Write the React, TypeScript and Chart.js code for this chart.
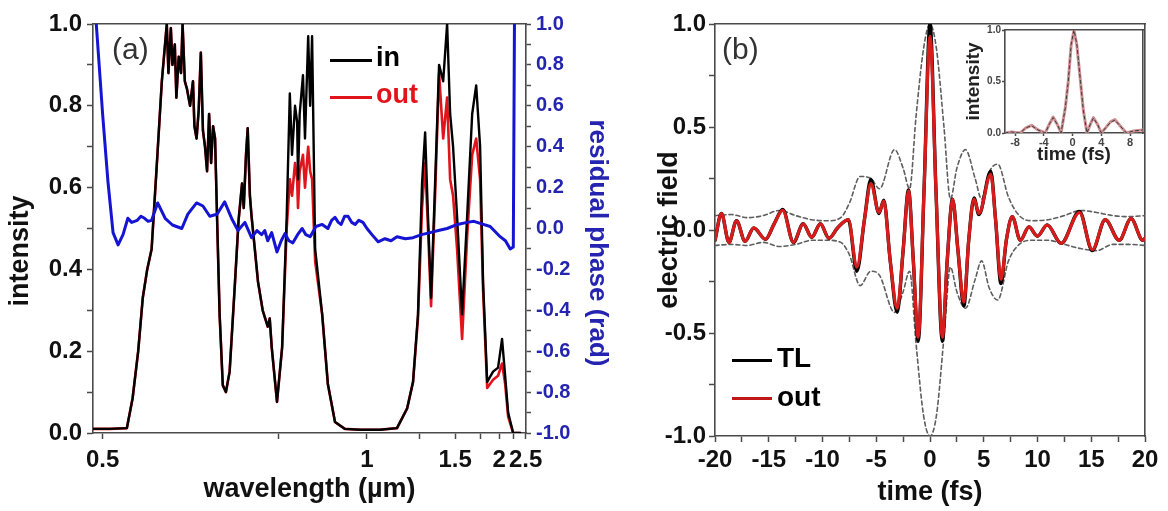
import React, { useEffect, useRef } from "react";
import { Chart, registerables } from "chart.js";

Chart.register(...registerables);

const FONT = "'Liberation Sans', Arial, Helvetica, sans-serif";
const AXIS = "#4a4a4a";
const BLUE_LINE = "#1414d2";
const BLUE_TEXT = "#2424b0";
const RED = "#e0141a";

// ---------------- Panel (a): spectrum (wavelength in µm) ----------------
const specWavelength = [
  0.491, 0.507, 0.524, 0.530, 0.536, 0.541, 0.546, 0.551, 0.557, 0.563,
  0.569, 0.571, 0.574, 0.576, 0.579, 0.581, 0.584, 0.587, 0.589, 0.592,
  0.595, 0.599, 0.603, 0.605, 0.608, 0.611, 0.614, 0.617, 0.620, 0.623,
  0.626, 0.629, 0.632, 0.635, 0.638, 0.642, 0.647, 0.652, 0.658, 0.667,
  0.673, 0.679, 0.682, 0.686, 0.689, 0.693, 0.696, 0.702, 0.708, 0.717,
  0.727, 0.731, 0.735, 0.746, 0.757, 0.767, 0.774, 0.779, 0.786, 0.791,
  0.793, 0.797, 0.805, 0.810, 0.818, 0.823, 0.828, 0.836, 0.855, 0.871,
  0.892, 0.923, 0.974, 1.052, 1.128, 1.179, 1.211, 1.239, 1.263, 1.282,
  1.300, 1.320, 1.347, 1.375, 1.405, 1.435, 1.459, 1.483, 1.517, 1.562,
  1.610, 1.661, 1.704, 1.748, 1.783, 1.834, 1.912, 1.984, 2.045, 2.095,
  2.146, 2.237, 2.380,
];
const specIn = [
  0.01, 0.01, 0.012, 0.085, 0.20, 0.33, 0.40, 0.45, 0.655, 0.86,
  1.0, 0.88, 0.99, 0.90, 0.95, 0.82, 0.92, 0.88, 1.0, 0.86,
  0.84, 0.80, 0.86, 0.75, 0.72, 0.79, 0.93, 0.74, 0.70, 0.64,
  0.78, 0.66, 0.75, 0.72, 0.53, 0.29, 0.117, 0.10, 0.15, 0.37,
  0.52, 0.61, 0.55, 0.68, 0.745, 0.58, 0.53, 0.45, 0.37, 0.30,
  0.26, 0.28, 0.21, 0.076, 0.21, 0.53, 0.83, 0.68, 0.80, 0.76,
  0.62, 0.78, 0.875, 0.72, 0.97, 0.80, 0.97, 0.45, 0.29, 0.12,
  0.027, 0.01, 0.008, 0.008, 0.012, 0.06, 0.125, 0.29, 0.61, 0.735,
  0.53, 0.33, 0.61, 0.90, 0.86, 1.0, 0.78, 0.70, 0.53, 0.29,
  0.53, 0.78, 0.85, 0.70, 0.37, 0.125, 0.15, 0.16, 0.23, 0.14,
  0.05, 0.0, 0.0,
];
const specOut = [
  0.01, 0.01, 0.012, 0.085, 0.20, 0.33, 0.40, 0.45, 0.655, 0.86,
  1.0, 0.88, 0.99, 0.90, 0.95, 0.82, 0.92, 0.88, 1.0, 0.86,
  0.84, 0.80, 0.86, 0.75, 0.72, 0.79, 0.93, 0.74, 0.70, 0.64,
  0.78, 0.66, 0.75, 0.72, 0.53, 0.29, 0.117, 0.10, 0.15, 0.37,
  0.52, 0.61, 0.55, 0.68, 0.745, 0.58, 0.53, 0.45, 0.37, 0.30,
  0.26, 0.28, 0.21, 0.076, 0.21, 0.50, 0.62, 0.58, 0.66, 0.62,
  0.55, 0.64, 0.68, 0.60, 0.70, 0.64, 0.62, 0.42, 0.29, 0.12,
  0.027, 0.01, 0.008, 0.008, 0.012, 0.06, 0.125, 0.28, 0.55, 0.66,
  0.50, 0.31, 0.58, 0.88, 0.72, 0.82, 0.62, 0.58, 0.45, 0.23,
  0.48, 0.68, 0.72, 0.62, 0.35, 0.11, 0.13, 0.14, 0.17, 0.12,
  0.04, 0.0, 0.0,
];
const phaseWavelength = [
  0.494, 0.500, 0.505, 0.510, 0.515, 0.520, 0.525, 0.529, 0.535, 0.539,
  0.543, 0.547, 0.551, 0.558, 0.567, 0.576, 0.588, 0.596, 0.608, 0.617,
  0.627, 0.638, 0.650, 0.662, 0.672, 0.684, 0.696, 0.706, 0.715, 0.721,
  0.727, 0.735, 0.746, 0.755, 0.763, 0.772, 0.781, 0.792, 0.803, 0.812,
  0.823, 0.838, 0.855, 0.871, 0.882, 0.892, 0.902, 0.911, 0.922, 0.933,
  0.945, 0.957, 0.970, 0.985, 1.000, 1.019, 1.044, 1.073, 1.100, 1.128,
  1.170, 1.211, 1.260, 1.314, 1.370, 1.435, 1.520, 1.610, 1.680, 1.748,
  1.873, 2.015, 2.100, 2.183, 2.240, 2.262,
];
const phaseResidual = [
  1.0, 0.555, 0.23, -0.02, -0.08, -0.03, 0.05, 0.03, 0.04, 0.06,
  0.05, 0.035, 0.04, 0.125, 0.05, 0.017, 0.0, 0.07, 0.125, 0.11,
  0.06, 0.07, 0.13, 0.045, -0.01, 0.03, -0.045, -0.01, -0.03, -0.01,
  -0.06, -0.02, -0.115, -0.06, -0.025, -0.06, -0.07, -0.03, 0.0, -0.03,
  -0.04, 0.01, 0.02, 0.0, 0.04, 0.055, 0.03, 0.02, 0.06, 0.06,
  0.03, 0.02, 0.04, 0.03, 0.0, -0.03, -0.065, -0.05, -0.06, -0.04,
  -0.05, -0.045, -0.03, -0.02, -0.01, 0.0, 0.02, 0.03, 0.035, 0.025,
  0.01, -0.04, -0.06, -0.1, -0.09, 1.0,
];
const wlTicks = [0.5, 0.75, 1, 1.25, 1.5, 1.75, 2, 2.25, 2.5];
const wlTickLabels = ["0.5", "", "1", "", "1.5", "", "2", "", "2.5"];
const wlMin = 0.491;
const wlMax = 2.51;

// ---------------- Panel (b): electric field vs time (fs) ----------------
const fieldTime = [
  -20, -19.4, -18.7, -18.0, -17.2, -16.4, -15.3, -14.5, -13.7, -12.7,
  -11.8, -11.0, -10.2, -9.4, -8.6, -7.6, -6.8, -6.1, -5.5, -4.75,
  -4.3, -3.7, -3.05, -2.5, -2.0, -1.55, -1.1, -0.55, 0, 0.55,
  1.15, 1.6, 2.1, 2.6, 3.15, 3.6, 4.1, 4.55, 5.65, 6.1,
  6.6, 7.1, 7.65, 8.4, 9.2, 10.0, 10.9, 12.2, 13.9, 15.1,
  16.3, 17.6, 18.7, 19.8, 20,
];
const fieldTL = [
  -0.05, 0.08, -0.06, 0.045, -0.055, 0.01, -0.045, 0.03, 0.10, -0.06,
  0.03, -0.035, 0.03, -0.04, 0.01, 0.05, -0.20, 0.05, 0.245, 0.08,
  0.145, -0.15, -0.40, -0.10, 0.195, -0.15, -0.54, 0.20, 1.0, 0.20,
  -0.54, -0.15, 0.15, -0.10, -0.37, -0.05, 0.155, 0.075, 0.285, 0.05,
  -0.26, -0.05, 0.065, -0.05, 0.015, -0.03, 0.025, -0.065, 0.09, -0.10,
  0.05, -0.05, 0.055, -0.05, -0.04,
];
const fieldOut = [
  -0.05, 0.08, -0.06, 0.045, -0.055, 0.01, -0.045, 0.03, 0.095, -0.06,
  0.03, -0.035, 0.03, -0.04, 0.01, 0.05, -0.18, 0.05, 0.225, 0.085,
  0.14, -0.15, -0.38, -0.10, 0.19, -0.15, -0.52, 0.20, 0.94, 0.20,
  -0.52, -0.15, 0.15, -0.10, -0.35, -0.05, 0.15, 0.08, 0.27, 0.05,
  -0.24, -0.05, 0.065, -0.05, 0.015, -0.03, 0.025, -0.065, 0.085, -0.095,
  0.05, -0.05, 0.055, -0.05, -0.04,
];
const envTime = [
  -20, -18.5, -17, -15.5, -14, -12.5, -11, -9.5, -8.3, -7.5,
  -6.5, -5.5, -4.7, -3.3, -2.5, -1.9, -1.3, -0.6, 0, 0.6,
  1.3, 1.9, 2.5, 3.3, 4.2, 4.8, 5.5, 6.3, 7.3, 8.3,
  9.5, 11, 12.5, 14, 15.5, 17, 18.5, 20,
];
const envUpper = [
  0.07, 0.075, 0.06, 0.07, 0.095, 0.07, 0.05, 0.045, 0.06, 0.13,
  0.26, 0.25, 0.2, 0.39, 0.3, 0.2, 0.55, 0.88, 1.0, 0.88,
  0.5, 0.15, 0.3, 0.39, 0.25, 0.15, 0.28, 0.32, 0.16, 0.07,
  0.045, 0.05, 0.07, 0.095, 0.085, 0.07, 0.065, 0.07,
];
const envLower = [
  -0.075, -0.07, -0.075, -0.06, -0.08, -0.07, -0.05, -0.05, -0.06, -0.12,
  -0.27, -0.2, -0.22, -0.4, -0.3, -0.2, -0.55, -0.9, -1.0, -0.9,
  -0.52, -0.18, -0.3, -0.38, -0.24, -0.15, -0.28, -0.34, -0.15, -0.07,
  -0.05, -0.05, -0.07, -0.09, -0.1, -0.07, -0.07, -0.075,
];

// ---------------- Inset: intensity vs time (fs) ----------------
const insetTime = [
  -9.4, -8.5, -7.3, -6.5, -5.7, -4.8, -3.8, -3.2, -2.7, -2.1,
  -1.6, -1.0, -0.6, -0.2, 0.2, 0.6, 1.1, 1.5, 2.0, 2.5,
  2.9, 3.5, 4.0, 4.6, 5.3, 5.9, 6.6, 7.5, 8.5, 9.8,
];
const insetOut = [
  0.0, 0.01, 0.0, 0.05, 0.075, 0.03, 0.0, 0.09, 0.155, 0.08,
  0.0, 0.25, 0.5, 0.85, 1.0, 0.85, 0.5, 0.22, 0.0, 0.09,
  0.15, 0.08, 0.0, 0.05, 0.11, 0.13, 0.07, 0.0, 0.02, 0.03,
];
const insetTL = [
  0.0, 0.01, 0.0, 0.05, 0.07, 0.03, 0.0, 0.09, 0.15, 0.08,
  0.0, 0.25, 0.5, 0.86, 1.0, 0.86, 0.5, 0.22, 0.0, 0.09,
  0.145, 0.08, 0.0, 0.05, 0.105, 0.125, 0.07, 0.0, 0.02, 0.03,
];
const insetTicks = [-8, -4, 0, 4, 8];

// ---------------- helpers ----------------
const bold = (size: number) => ({ family: FONT, size, weight: "bold" as const });
const setW = (w: number) => (s: any) => { s.width = w; };
const setH = (h: number) => (s: any) => { s.height = h; };
const tickGrid = (len: number) => ({
  display: true, drawOnChartArea: false, drawTicks: true, tickLength: len, tickWidth: 1.5, tickColor: AXIS,
});
const noGrid = { display: false, drawOnChartArea: false, drawTicks: false };
const frame = { display: true, color: AXIS, width: 1.6 };
const pts = (xs: number[], ys: number[], f = (v: number) => v) => xs.map((x, i) => ({ x: f(x), y: ys[i] }));
const inv = (w: number) => 1 / w;
const tenthsLabel = (v: number) => {
  const r = Math.round(v * 10);
  return r % 2 === 0 ? (r / 10).toFixed(1) : "";
};
const baseOpts = {
  animation: false,
  responsive: false,
  maintainAspectRatio: false,
  events: [],
  layout: { padding: 0 },
  plugins: { legend: { display: false }, tooltip: { enabled: false } },
  elements: { point: { radius: 0 }, line: { borderJoinStyle: "round", borderCapStyle: "round" } },
};

function configA(): any {
  return {
    type: "line",
    data: {
      datasets: [
        { label: "in", data: pts(specWavelength, specIn, inv), borderColor: "#000", borderWidth: 2.4, order: 1, yAxisID: "y", xAxisID: "x" },
        { label: "out", data: pts(specWavelength, specOut, inv), borderColor: RED, borderWidth: 2.6, order: 2, yAxisID: "y", xAxisID: "x" },
        { label: "residual phase", data: pts(phaseWavelength, phaseResidual, inv), borderColor: BLUE_LINE, borderWidth: 3, order: 0, yAxisID: "y1", xAxisID: "x" },
      ],
    },
    options: {
      ...baseOpts,
      scales: {
        x: {
          type: "linear", position: "bottom", reverse: true, min: 1 / wlMax, max: 1 / wlMin,
          afterBuildTicks: (s: any) => { s.ticks = wlTicks.map((w) => ({ value: 1 / w })); },
          ticks: { autoSkip: false, maxRotation: 0, padding: 7, color: "#111", font: bold(24), callback: (_v: any, i: number) => wlTickLabels[i] },
          grid: tickGrid(6), border: frame,
          title: { display: true, text: "wavelength (µm)", color: "#111", font: bold(27), padding: { top: 0, bottom: 5 } },
          afterFit: setH(78),
        },
        xTop: {
          type: "linear", position: "top", reverse: true, min: 1 / wlMax, max: 1 / wlMin,
          ticks: { display: false }, grid: noGrid, border: frame, afterFit: setH(24),
        },
        y: {
          type: "linear", position: "left", min: 0, max: 1,
          ticks: { stepSize: 0.1, autoSkip: false, padding: 5, color: "#111", font: bold(24), callback: tenthsLabel },
          grid: tickGrid(6), border: frame,
          title: { display: true, text: "intensity      ", color: "#111", font: bold(27), padding: { top: 4, bottom: 0 } },
          afterFit: setW(93),
        },
        y1: {
          type: "linear", position: "right", min: -1, max: 1,
          ticks: { stepSize: 0.1, autoSkip: false, padding: 5, color: BLUE_TEXT, font: bold(20), callback: tenthsLabel },
          grid: tickGrid(5), border: frame,
          title: { display: true, text: "    residual phase (rad)", color: BLUE_TEXT, font: bold(26), padding: { top: 27, bottom: 0 } },
          afterFit: setW(114),
        },
      },
    },
  };
}

function configB(): any {
  return {
    type: "line",
    data: {
      datasets: [
        { label: "TL", data: pts(fieldTime, fieldTL), borderColor: "#000", borderWidth: 3.4, order: 2, cubicInterpolationMode: "monotone" },
        { label: "out", data: pts(fieldTime, fieldOut), borderColor: "#d81c1c", borderWidth: 3.2, order: 1, cubicInterpolationMode: "monotone" },
        { label: "envelope +", data: pts(envTime, envUpper), borderColor: "#5e5e5e", borderWidth: 1.6, borderDash: [4, 3], order: 3, cubicInterpolationMode: "monotone" },
        { label: "envelope -", data: pts(envTime, envLower), borderColor: "#5e5e5e", borderWidth: 1.6, borderDash: [4, 3], order: 3, cubicInterpolationMode: "monotone" },
      ],
    },
    options: {
      ...baseOpts,
      scales: {
        x: {
          type: "linear", position: "bottom", min: -20, max: 20,
          ticks: {
            stepSize: 2.5, autoSkip: false, maxRotation: 0, padding: 4, color: "#111", font: bold(24),
            callback: (v: number) => (Math.round(v / 2.5) % 2 === 0 ? String(Math.round(v)) : ""),
          },
          grid: tickGrid(6), border: frame,
          title: { display: true, text: "time (fs)", color: "#111", font: bold(27), padding: { top: 0, bottom: 2 } },
          afterFit: setH(75),
        },
        xTop: { type: "linear", position: "top", min: -20, max: 20, ticks: { display: false }, grid: noGrid, border: frame, afterFit: setH(24) },
        y: {
          type: "linear", position: "left", min: -1, max: 1,
          ticks: {
            stepSize: 0.25, autoSkip: false, padding: 3, color: "#111", font: bold(24),
            callback: (v: number) => (Math.round(v * 4) % 2 === 0 ? (Math.round(v * 2) / 2).toFixed(1) : ""),
          },
          grid: tickGrid(6), border: frame,
          title: { display: true, text: "electric field", color: "#111", font: bold(27), padding: { top: 33, bottom: 0 } },
          afterFit: setW(95),
        },
        yRight: { type: "linear", position: "right", min: -1, max: 1, ticks: { display: false }, grid: noGrid, border: frame, afterFit: setW(23) },
      },
    },
  };
}

function configInset(): any {
  return {
    type: "line",
    data: {
      datasets: [
        { label: "out", data: pts(insetTime, insetOut), borderColor: "#cf8f92", borderWidth: 3, order: 2 },
        { label: "TL", data: pts(insetTime, insetTL), borderColor: "#3a3a3a", borderWidth: 1, borderDash: [3, 3], order: 1 },
      ],
    },
    options: {
      ...baseOpts,
      scales: {
        x: {
          type: "linear", position: "bottom", min: -9.4, max: 9.8,
          afterBuildTicks: (s: any) => { s.ticks = insetTicks.map((v) => ({ value: v })); },
          ticks: { autoSkip: false, maxRotation: 0, padding: 0, color: "#444", font: bold(11), callback: (v: number) => String(v) },
          grid: tickGrid(3), border: frame,
          title: { display: true, text: "time (fs)", color: "#222", font: bold(19), padding: { top: 0, bottom: 9 } },
          afterFit: setH(42),
        },
        xTop: { type: "linear", position: "top", min: -9.4, max: 9.8, ticks: { display: false }, grid: noGrid, border: frame, afterFit: setH(30) },
        y: {
          type: "linear", position: "left", min: 0, max: 1,
          ticks: { stepSize: 0.5, autoSkip: false, padding: 1, color: "#444", font: bold(10), callback: (v: number) => v.toFixed(1) },
          grid: tickGrid(3), border: frame,
          title: { display: true, text: "intensity", color: "#222", font: bold(19), padding: { top: 22, bottom: 0 } },
          afterFit: setW(65),
        },
        yRight: { type: "linear", position: "right", min: 0, max: 1, ticks: { display: false }, grid: noGrid, border: frame, afterFit: setW(25) },
      },
    },
  };
}

const abs = (o: any): React.CSSProperties => ({ position: "absolute", fontFamily: FONT, whiteSpace: "nowrap", lineHeight: 1, ...o });

export default function App() {
  const aRef = useRef<HTMLCanvasElement>(null);
  const bRef = useRef<HTMLCanvasElement>(null);
  const iRef = useRef<HTMLCanvasElement>(null);

  useEffect(() => {
    const charts = [
      new Chart(aRef.current as HTMLCanvasElement, configA()),
      new Chart(bRef.current as HTMLCanvasElement, configB()),
      new Chart(iRef.current as HTMLCanvasElement, configInset()),
    ];
    return () => charts.forEach((c) => c.destroy());
  }, []);

  return (
    <div style={{ position: "absolute", left: 0, top: 0, width: 1168, height: 511, background: "#fff", overflow: "hidden" }}>
      <canvas ref={aRef} width={640} height={511} style={{ position: "absolute", left: 0, top: 0, width: 640, height: 511 }} />
      <canvas ref={bRef} width={548} height={511} style={{ position: "absolute", left: 620, top: 0, width: 548, height: 511 }} />
      <canvas ref={iRef} width={228} height={175} style={{ position: "absolute", left: 940, top: 0, width: 228, height: 175 }} />

      <div style={abs({ left: 112, top: 34, fontSize: 30, color: "#333" })}>(a)</div>
      <div style={abs({ left: 722, top: 34, fontSize: 30, color: "#333" })}>(b)</div>

      <div style={abs({ left: 330, top: 59, width: 42, height: 3, background: "#000" })} />
      <div style={abs({ left: 376, top: 44, fontSize: 27, fontWeight: "bold", color: "#000" })}>in</div>
      <div style={abs({ left: 330, top: 96, width: 42, height: 3, background: RED })} />
      <div style={abs({ left: 376, top: 81, fontSize: 27, fontWeight: "bold", color: RED })}>out</div>

      <div style={abs({ left: 732, top: 359, width: 40, height: 3, background: "#000" })} />
      <div style={abs({ left: 777, top: 344, fontSize: 28, fontWeight: "bold", color: "#000" })}>TL</div>
      <div style={abs({ left: 732, top: 397, width: 40, height: 3, background: "#c01616" })} />
      <div style={abs({ left: 777, top: 383, fontSize: 28, fontWeight: "bold", color: "#000" })}>out</div>
    </div>
  );
}
